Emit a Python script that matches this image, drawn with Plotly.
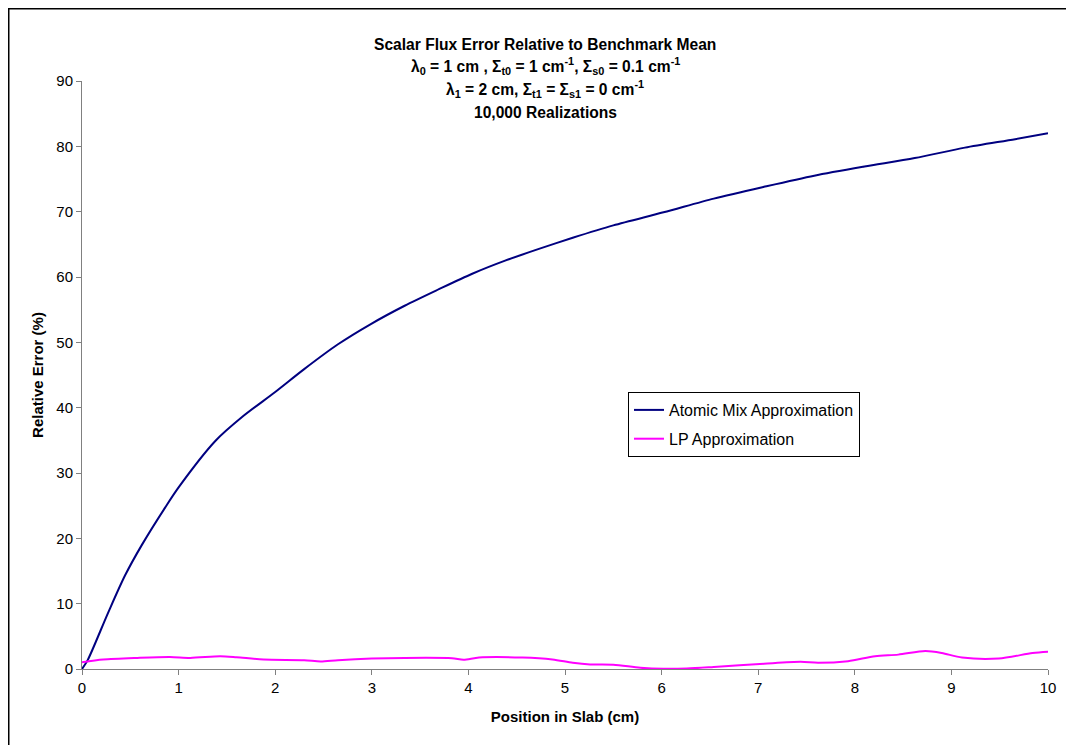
import plotly.graph_objects as go

# Atomic Mix Approximation
am_x = [0.0, 0.06, 0.27, 0.445, 0.62, 0.86, 1.0, 1.38, 1.66, 2.0, 2.3, 2.65, 2.99, 3.34, 3.69,
        4.04, 4.38, 4.73, 5.08, 5.5, 6.02, 6.54, 7.06, 7.58, 8.1, 8.62, 9.14, 9.66, 10.0]
am_y = [0.0, 1.4, 8.6, 14.3, 19.0, 24.7, 27.8, 34.9, 38.6, 42.4, 45.9, 49.7, 52.8, 55.6, 58.1,
        60.5, 62.5, 64.3, 66.0, 67.9, 69.9, 72.0, 73.8, 75.5, 76.9, 78.2, 79.8, 81.1, 82.0]

# LP Approximation
lp_x = [0.0, 0.22, 0.57, 0.91, 1.12, 1.43, 1.6, 1.88, 2.3, 2.47, 2.65, 3.0, 3.34, 3.83, 3.95,
        4.11, 4.56, 4.87, 5.08, 5.26, 5.5, 5.78, 6.02, 6.26, 6.54, 7.06, 7.44, 7.62, 7.93,
        8.21, 8.45, 8.73, 8.9, 9.11, 9.49, 9.84, 10.0]
lp_y = [1.05, 1.45, 1.7, 1.85, 1.7, 1.95, 1.8, 1.45, 1.35, 1.15, 1.35, 1.6, 1.7, 1.65, 1.4,
        1.75, 1.75, 1.45, 0.95, 0.7, 0.65, 0.2, 0.03, 0.07, 0.3, 0.8, 1.1, 0.95, 1.2,
        1.95, 2.2, 2.75, 2.45, 1.75, 1.6, 2.45, 2.65]

title_lines = [
    "Scalar Flux Error Relative to Benchmark Mean",
    "λ<sub>0</sub> = 1 cm , Σ<sub>t0</sub> = 1 cm<sup>-1</sup>, Σ<sub>s0</sub> = 0.1 cm<sup>-1</sup>",
    "λ<sub>1</sub> = 2 cm, Σ<sub>t1</sub> = Σ<sub>s1</sub> = 0 cm<sup>-1</sup>",
    "10,000 Realizations",
]
title_y_px = [44, 66, 89, 113]

FONT = "Liberation Sans, Arial, sans-serif"
OFF = 8  # page body margin
W, H = 1074 - OFF, 745 - OFF
L, T = 82 - OFF, 81 - OFF
pw, ph = 966, 588
R, B = W - L - pw, H - T - ph

def px_x(p):  # page pixel -> paper
    return (p - OFF - L) / pw

def px_y(p):
    return (T + ph - (p - OFF)) / ph

fig = go.Figure()
fig.add_trace(go.Scatter(x=am_x, y=am_y, mode="lines", name="Atomic Mix Approximation",
                         line=dict(color="#000080", width=2, shape="spline", smoothing=0.8),
                         legendgroup="a"))
fig.add_trace(go.Scatter(x=lp_x, y=lp_y, mode="lines", name="LP Approximation",
                         line=dict(color="#FF00FF", width=2, shape="spline", smoothing=0.8),
                         legendgroup="b"))

annotations = []
for txt, yp in zip(title_lines, title_y_px):
    annotations.append(dict(text="<b>" + txt + "</b>", x=px_x(545), y=px_y(yp), xref="paper", yref="paper",
                            showarrow=False, xanchor="center", yanchor="middle",
                            font=dict(family=FONT, size=15.6, color="black")))

fig.update_layout(
    width=W, height=H,
    margin=dict(l=L, r=R, t=T, b=B),
    paper_bgcolor="white", plot_bgcolor="white",
    font=dict(family=FONT, size=15, color="black"),
    annotations=annotations,
    showlegend=True,
    legend=dict(x=px_x(628), y=px_y(392), xanchor="left", yanchor="top",
                bgcolor="white", bordercolor="black", borderwidth=1,
                font=dict(family=FONT, size=16, color="black"),
                tracegroupgap=5, traceorder="grouped"),
    shapes=[
        dict(type="line", xref="paper", yref="paper", x0=px_x(8), x1=px_x(1090), y0=px_y(8), y1=px_y(8),
             line=dict(color="black", width=3)),
        dict(type="line", xref="paper", yref="paper", x0=px_x(8), x1=px_x(8), y0=px_y(8), y1=px_y(760),
             line=dict(color="black", width=3)),
    ],
)
fig.update_xaxes(range=[0, 10], dtick=1, tick0=0, showgrid=False, zeroline=False,
                 showline=True, linecolor="#808080", linewidth=1,
                 ticks="outside", ticklen=5, tickcolor="#808080",
                 tickfont=dict(family=FONT, size=15),
                 title=dict(text="<b>Position in Slab (cm)</b>", font=dict(family=FONT, size=15), standoff=16))
fig.update_yaxes(range=[0, 90], dtick=10, tick0=0, showgrid=False, zeroline=False,
                 showline=True, linecolor="#808080", linewidth=1,
                 ticks="outside", ticklen=5, tickcolor="#808080",
                 tickfont=dict(family=FONT, size=15),
                 title=dict(text="<b>Relative Error (%)</b>", font=dict(family=FONT, size=15), standoff=9))

fig.write_html("out.html")
